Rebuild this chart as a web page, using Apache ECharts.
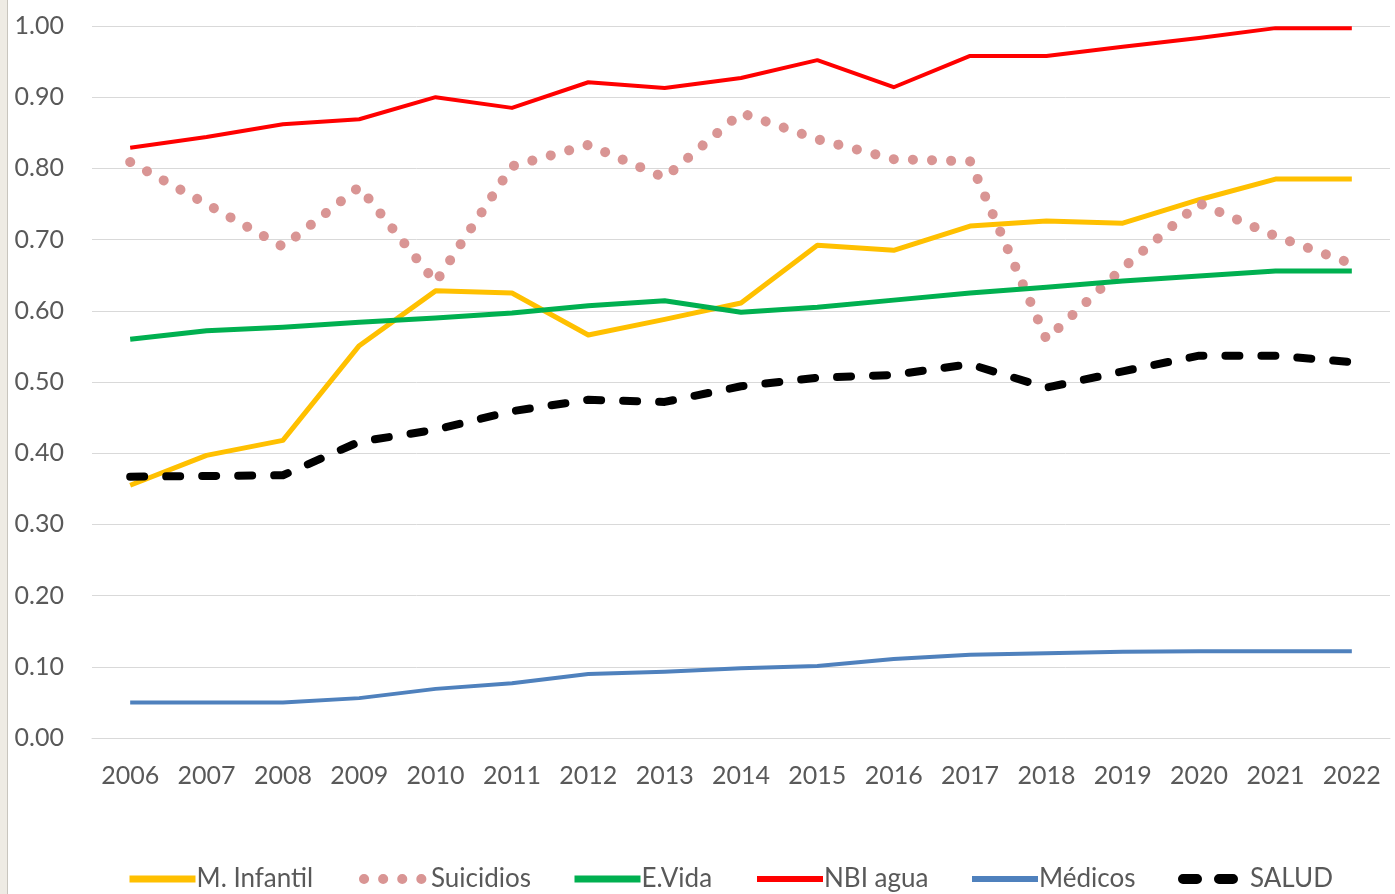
<meta charset="utf-8">
<script src="https://cdn.jsdelivr.net/npm/echarts/dist/echarts.min.js"></script>
<div id="main" style="position:absolute;left:0;top:0;width:1395px;height:894px;"></div>
<script>
const years = ['2006','2007','2008','2009','2010','2011','2012','2013','2014','2015','2016','2017','2018','2019','2020','2021','2022']
const infantil = [0.355,0.397,0.418,0.551,0.628,0.625,0.566,0.588,0.611,0.692,0.685,0.719,0.726,0.723,0.756,0.785,0.785]
const suicidios = [0.809,0.750,0.690,0.774,0.640,0.803,0.833,0.787,0.878,0.841,0.813,0.810,0.560,0.660,0.751,0.705,0.666]
const evida = [0.560,0.572,0.577,0.584,0.590,0.597,0.607,0.614,0.598,0.605,0.615,0.625,0.633,0.642,0.649,0.656,0.656]
const nbiAgua = [0.829,0.844,0.862,0.869,0.900,0.885,0.921,0.913,0.927,0.952,0.914,0.958,0.958,0.971,0.983,0.997,0.997]
const medicos = [0.050,0.050,0.050,0.056,0.069,0.077,0.090,0.093,0.098,0.101,0.111,0.117,0.119,0.121,0.122,0.122,0.122]
const salud = [0.367,0.368,0.369,0.416,0.433,0.459,0.475,0.472,0.494,0.506,0.510,0.525,0.492,0.515,0.537,0.537,0.528]
const names = ['M. Infantil','Suicidios','E.Vida','NBI agua','Médicos','SALUD']
const legendLeft = [121, 354, 566, 749, 964, 1173]
const legendWidth = [7, 10, 7, 6, 6, 10]

const font = 'Lato'
const txt = '#595959'
let chart = echarts.init(main)

const line = (name, data, color, width, type, cap) => ({
  name, data, type: 'line', symbol: 'none', z: 2,
  lineStyle: {color, width, type: type || 'solid', cap: cap || 'butt', join: 'round'},
  itemStyle: {color}
})

chart.setOption({
  backgroundColor: '#fff',
  animation: false,
  graphic: [
    {type: 'rect', shape: {x: 0, y: 0, width: 7, height: 894}, style: {fill: '#EEEBE4'}},
    {type: 'rect', shape: {x: 7, y: 0, width: 1, height: 894}, style: {fill: '#C8C5BE'}}
  ],
  grid: {left: 92, right: 5, top: 26, bottom: 156, containLabel: false},
  legend: names.map((n, i) => ({
    data: [n], left: legendLeft[i], top: 861, itemWidth: 66, itemHeight: 24, itemGap: 0,
    itemStyle: {opacity: 0},
    lineStyle: {width: legendWidth[i]},
    textStyle: {fontFamily: font, fontSize: 26, color: txt, padding: [0, 0, 0, -4]}
  })),
  xAxis: {
    type: 'category', data: years, boundaryGap: true,
    axisLine: {lineStyle: {color: '#D9D9D9'}}, axisTick: {show: false},
    axisLabel: {fontFamily: font, fontSize: 25, color: txt, margin: 25}
  },
  yAxis: {
    type: 'value', min: 0, max: 1, interval: 0.1,
    axisLine: {show: false}, axisTick: {show: false},
    splitLine: {lineStyle: {color: '#D9D9D9', width: 1}},
    axisLabel: {fontFamily: font, fontSize: 25, color: txt, margin: 28, formatter: v => v.toFixed(2)}
  },
  series: [
    line('M. Infantil', infantil, '#FFC000', 5),
    line('Suicidios', suicidios, '#D99594', 10, [0.1, 19], 'round'),
    line('E.Vida', evida, '#00B050', 5),
    line('NBI agua', nbiAgua, '#FF0000', 4),
    line('Médicos', medicos, '#4F81BD', 4),
    line('SALUD', salud, '#000000', 8, [14, 22], 'round')
  ]
})
</script>
